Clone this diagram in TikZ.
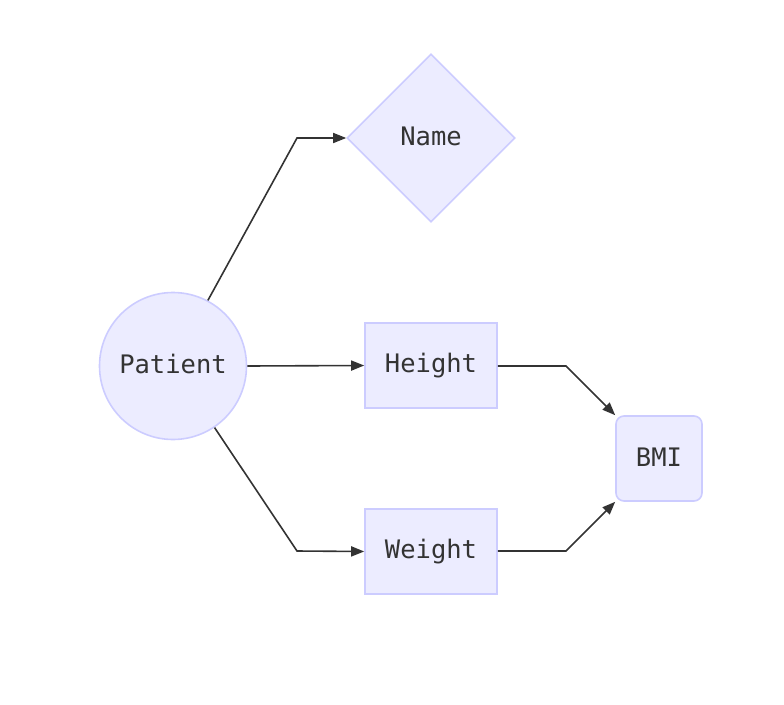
\documentclass[tikz,border=0pt]{standalone}
\usepackage{fontspec}
\setmonofont{DejaVu Sans Mono}
\usetikzlibrary{arrows.meta,shapes.geometric}
\definecolor{nodefill}{HTML}{ECECFF}
\definecolor{nodeline}{HTML}{CCCCFF}
\definecolor{edgeline}{HTML}{333333}
\definecolor{txt}{HTML}{333333}
\newcommand{\lift}[1]{\raisebox{3.5pt}{#1}}
\begin{document}
\begin{tikzpicture}[x=1pt,y=-1pt,
  base/.style={fill=nodefill,draw=nodeline,line width=1.6pt,text=txt,
    font=\ttfamily\fontsize{25.5}{30}\selectfont,inner sep=0pt},
  circ/.style={base,circle,minimum size=147pt},
  diam/.style={base,diamond,minimum width=168pt,minimum height=168pt},
  rbox/.style={base,rectangle,minimum width=132pt,minimum height=85pt},
  rrbox/.style={base,rectangle,rounded corners=8pt,minimum width=86pt,minimum height=85pt},
  edge/.style={draw=edgeline,line width=1.6pt,-{Triangle[length=13pt,width=10pt]}}]
\useasboundingbox (0,0) rectangle (784,704);
\node[circ] (patient) at (173,366) {\lift{Patient}};
\node[diam] (name) at (431,138) {\lift{Name}};
\node[rbox] (height) at (431,365.5) {\lift{Height}};
\node[rbox] (weight) at (431,551.5) {\lift{Weight}};
\node[rrbox] (bmi) at (659,458.5) {\lift{BMI}};
\coordinate (c1) at (297,138);
\coordinate (c2) at (297,551);
\coordinate (c3) at (566,366);
\coordinate (c4) at (566,551);
\draw[edge] (patient.62) -- (c1) -- (name.west);
\draw[edge] (patient.east) -- (height.west);
\draw[edge] (patient.-56) -- (c2) -- (weight.west);
\draw[edge] (height.east |- c3) -- (c3) -- (bmi.north west);
\draw[edge] (weight.east |- c4) -- (c4) -- (bmi.south west);
\end{tikzpicture}
\end{document}
